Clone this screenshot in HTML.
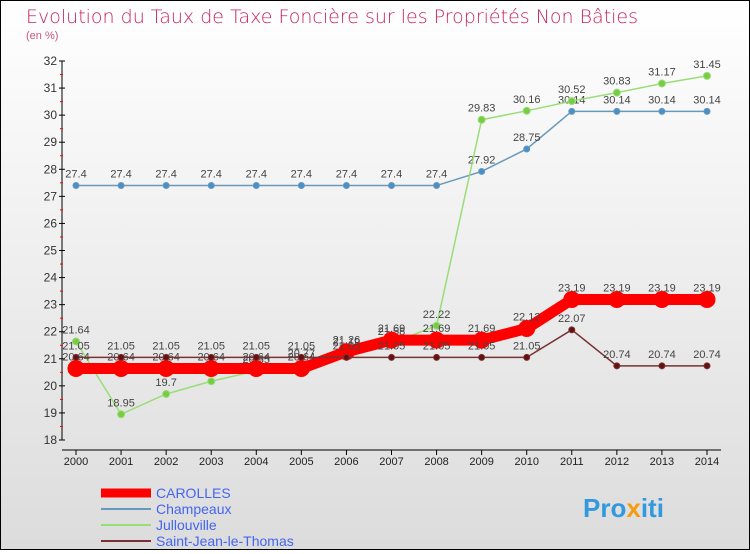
<!DOCTYPE html>
<html><head><meta charset="utf-8"><style>
body{margin:0;width:750px;height:550px;overflow:hidden;font-family:"Liberation Sans",sans-serif}
#wrap{position:relative;width:748px;height:548px;border:1px solid #000;background:linear-gradient(#fff,#dcdcdc)}
</style></head><body>
<div id="wrap">
<svg id="chart" width="748" height="548">
<text x="25" y="22" font-size="19" fill="#c8255a" font-family="DejaVu Sans, sans-serif" font-weight="200">Evolution du Taux de Taxe Foncière sur les Propriétés Non Bâties</text>
<text x="25" y="38" font-size="11" fill="#c8557a">(en %)</text>
<g id="axes"></g><g id="series"></g><g id="legend"></g>
<text x="582" y="516" font-size="26" font-weight="bold" fill="#3399dd">Pro<tspan fill="#f39c12">x</tspan>iti</text>
</svg></div>
<script>
const years=[2000,2001,2002,2003,2004,2005,2006,2007,2008,2009,2010,2011,2012,2013,2014];
const yTicks=[18,19,20,21,22,23,24,25,26,27,28,29,30,31,32];
const carolles=[20.64,20.64,20.64,20.64,20.64,20.64,21.26,21.69,21.69,21.69,22.12,23.19,23.19,23.19,23.19];
const champeaux=[27.4,27.4,27.4,27.4,27.4,27.4,27.4,27.4,27.4,27.92,28.75,30.14,30.14,30.14,30.14];
const jullouville=[21.64,18.95,19.7,20.17,20.55,20.77,21.19,21.58,22.22,29.83,30.16,30.52,30.83,31.17,31.45];
const saintJean=[21.05,21.05,21.05,21.05,21.05,21.05,21.05,21.05,21.05,21.05,21.05,22.07,20.74,20.74,20.74];
const seriesNames=["CAROLLES","Champeaux","Jullouville","Saint-Jean-le-Thomas"];
const NS="http://www.w3.org/2000/svg";
const X=i=>75+i*(631/(years.length-1));
const Y=v=>439-(v-18)*(379/14);
function mk(t,a,p){const e=document.createElementNS(NS,t);for(const k in a)e.setAttribute(k,a[k]);p.appendChild(e);return e;}
const ax=document.getElementById('axes');
let l=mk('line',{x1:61,y1:Y(32),x2:61,y2:Y(18),stroke:'#000'},ax);


l=mk('line',{x1:61,y1:Y(18)+10,x2:720,y2:Y(18)+10,stroke:'#000'},ax);


yTicks.forEach(v=>{mk('line',{x1:58,x2:64,y1:Y(v),y2:Y(v),stroke:'#000'},ax);
if(v<32)mk('line',{x1:59,x2:62,y1:Y(v+0.5),y2:Y(v+0.5),stroke:'#f00'},ax);
const t=mk('text',{x:56,y:Y(v)+4,'font-size':12,fill:'#333','text-anchor':'end'},ax);t.textContent=v;

});
years.forEach((yr,i)=>{mk('line',{x1:X(i),x2:X(i),y1:Y(18)+10,y2:Y(18)+15,stroke:'#000'},ax);
const t=mk('text',{x:X(i),y:464,'font-size':11,fill:'#222','text-anchor':'middle'},ax);t.textContent=yr;

});
const sg=document.getElementById('series');
function draw(data,color,w,r,name,fill){
const g=mk('g',{},sg);


mk('polyline',{points:data.map((v,i)=>X(i)+','+Y(v)).join(' '),fill:'none',stroke:color,'stroke-width':w},g);
data.forEach((v,i)=>{const c=mk('circle',{cx:X(i),cy:Y(v),r:r,fill:fill,stroke:color,'stroke-width':1},g);


const t=mk('text',{x:X(i),y:Y(v)-8,'font-size':11,fill:'#444','text-anchor':'middle'},g);t.textContent=v;});}
draw(champeaux,'#6699bb',1.5,3,'series-champeaux','#4a8fc8');
draw(jullouville,'#99dd77',1.5,3.5,'series-jullouville','#77cc44');
draw(carolles,'#ff0000',11,8,'series-carolles','#ff0000');
draw(saintJean,'#773333',1.5,3,'series-saint-jean','#661111');
const lg=document.getElementById('legend');
[['#ff0000',9],['#6699bb',2],['#99dd77',2],['#773333',2]].forEach((s,i)=>{
const y=492+i*16;const g=mk('g',{},lg);


mk('line',{x1:100,x2:150,y1:y,y2:y,stroke:s[0],'stroke-width':s[1]},g);
const t=mk('text',{x:155,y:y+5,'font-size':14,fill:'#4466ee'},g);t.textContent=seriesNames[i];});
</script></body></html>
